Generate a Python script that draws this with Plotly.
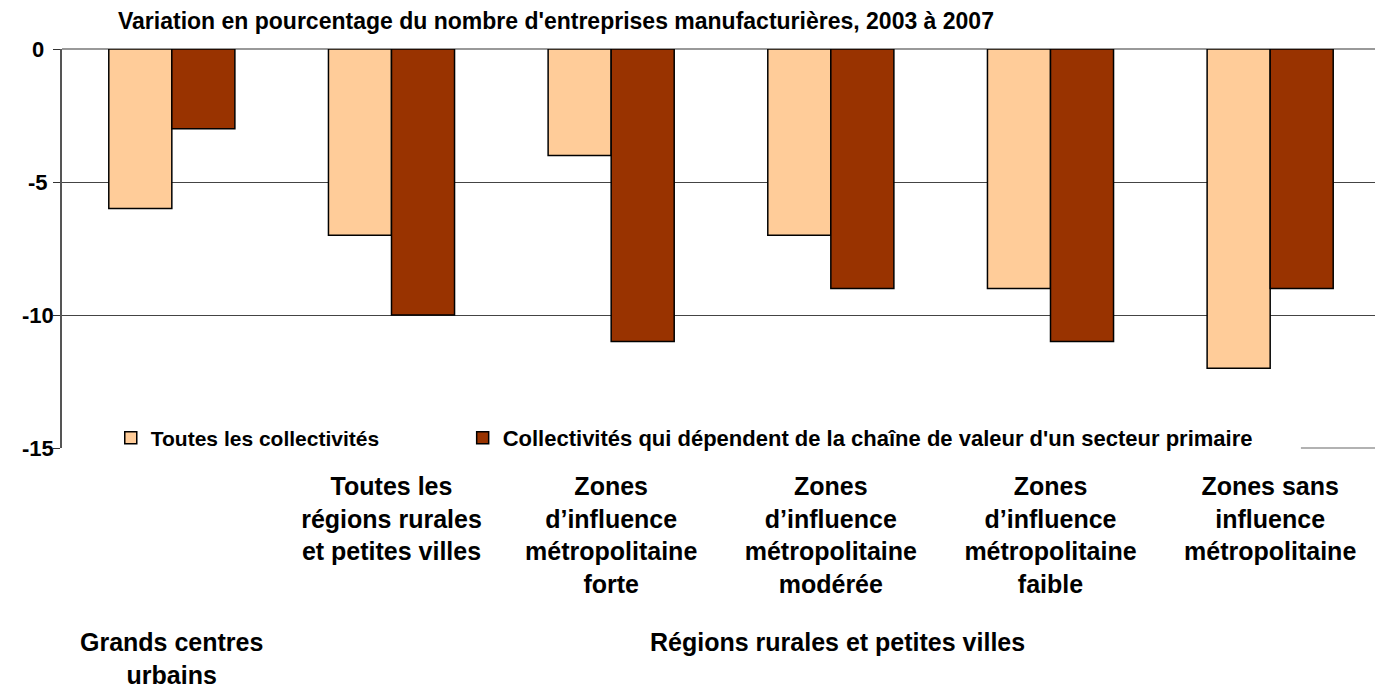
import plotly.graph_objects as go

categories = ["Grands centres urbains", "Toutes rurales", "Forte", "Modérée", "Faible", "Sans influence"]
tick_labels = [
    "",
    "Toutes les<br>régions rurales<br>et petites villes",
    "Zones<br>d’influence<br>métropolitaine<br>forte",
    "Zones<br>d’influence<br>métropolitaine<br>modérée",
    "Zones<br>d’influence<br>métropolitaine<br>faible",
    "Zones sans<br>influence<br>métropolitaine",
]
series_names = ["Toutes les collectivités",
                "Collectivités qui dépendent de la chaîne de valeur d'un secteur primaire"]
toutes = [-6, -7, -4, -7, -9, -12]
primaire = [-3, -10, -11, -9, -11, -9]
y_ticks = [0, -5, -10, -15]
y_tick_text = ["0", "-5", "-10", "-15"]
group_labels = ["Grands centres<br>urbains", "Régions rurales et petites villes"]

FONT = "Liberation Sans, Arial, sans-serif"

fig = go.Figure()
fig.add_trace(go.Bar(x=categories, y=toutes, name=series_names[0], legend="legend",
                     marker=dict(color="#FFCC99", line=dict(color="black", width=1.5))))
fig.add_trace(go.Bar(x=categories, y=primaire, name=series_names[1], legend="legend2",
                     marker=dict(color="#993300", line=dict(color="black", width=1.5))))

annotations = [
    dict(text=group_labels[0], x=0, xref="x", y=0, yref="paper", yshift=-178,
         yanchor="top", xanchor="center", showarrow=False,
         font=dict(family=FONT, size=25, weight="bold")),
    dict(text=group_labels[1], x=3.03, xref="x", y=0, yref="paper", yshift=-178,
         yanchor="top", xanchor="center", showarrow=False,
         font=dict(family=FONT, size=25, weight="bold")),
]
for v, t in zip(y_ticks, y_tick_text):
    annotations.append(dict(text=t, x=0, xref="paper", xshift=-24, y=v, yref="y",
                            xanchor="center", yanchor="middle", showarrow=False,
                            font=dict(family=FONT, size=22, weight="bold")))

fig.update_layout(
    width=1375, height=679,
    margin=dict(l=54, r=3, t=41, b=239),
    paper_bgcolor="white", plot_bgcolor="white",
    barmode="group", bargap=0.426, bargroupgap=0,
    font=dict(family=FONT, color="black"),
    title=dict(text="Variation en pourcentage du nombre d'entreprises manufacturières, 2003 à 2007",
               font=dict(family=FONT, size=23, weight="bold", color="black"),
               x=110/1375, xref="container", xanchor="left",
               y=1-13/679, yref="container", yanchor="middle"),
    showlegend=True,
    legend=dict(orientation="h", x=0.037, y=0.025, xanchor="left", yanchor="middle",
                bgcolor="rgba(0,0,0,0)",
                font=dict(family=FONT, size=21, weight="bold", color="black")),
    legend2=dict(orientation="h", x=0.304, y=0.025, xanchor="left", yanchor="middle",
                 bgcolor="rgba(0,0,0,0)",
                 font=dict(family=FONT, size=22, weight="bold", color="black")),
    xaxis=dict(tickvals=categories, ticktext=tick_labels, ticks="", showgrid=False,
               showline=False, tickfont=dict(family=FONT, size=25, weight="bold"),
               ticklabelstandoff=21, fixedrange=True),
    yaxis=dict(range=[-15, 0], tickvals=y_ticks, showticklabels=False,
               ticks="outside", ticklen=7,
               tickcolor="#333", showline=True, linecolor="#555", linewidth=1.5,
               gridcolor="#444", gridwidth=1, zeroline=True, zerolinecolor="#999",
               zerolinewidth=1.5),
    shapes=[
        dict(type="rect", xref="paper", yref="paper", x0=0.002, x1=0.937, y0=-0.03, y1=0.06,
             fillcolor="white", line=dict(width=0), layer="above"),
        dict(type="line", xref="paper", yref="paper", x0=0.94, x1=1, y0=0, y1=0,
             line=dict(color="#999", width=1.5), layer="above"),
    ],
    annotations=annotations,
)

fig.write_html("out.html")
